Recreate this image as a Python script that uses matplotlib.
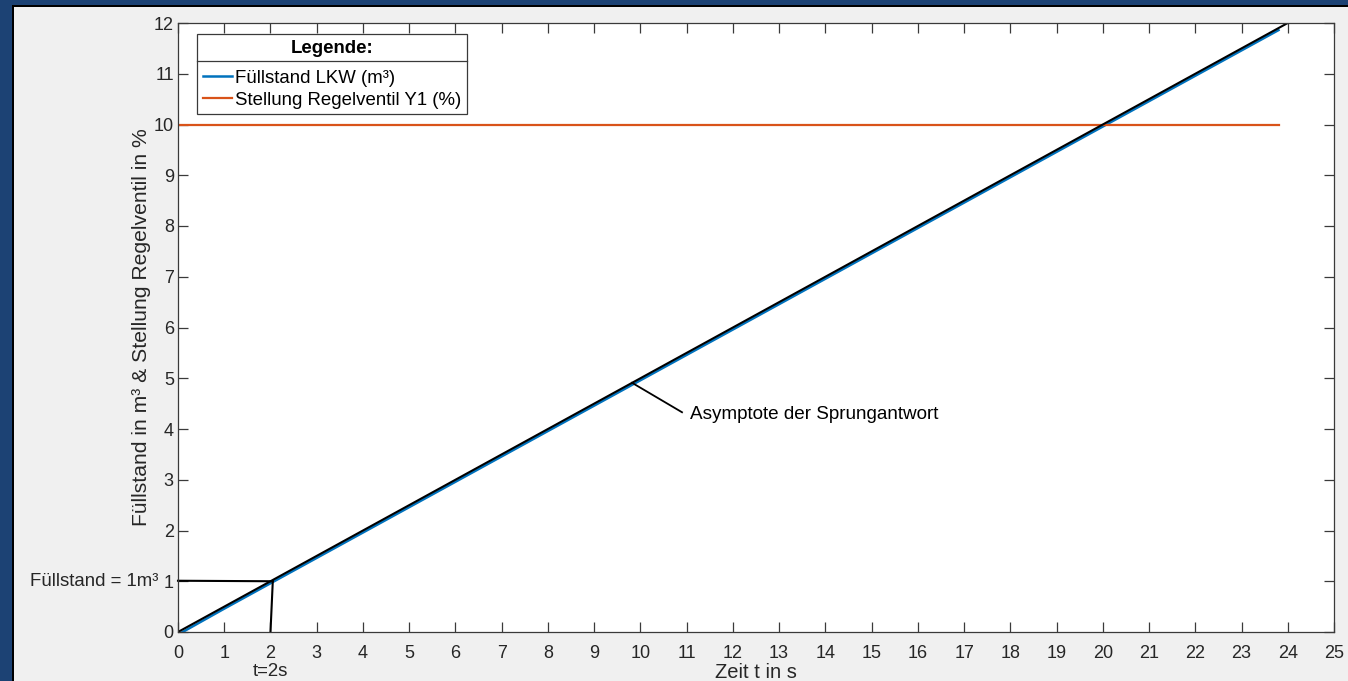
import matplotlib
matplotlib.use("Agg")
import matplotlib.pyplot as plt
from matplotlib.patches import Rectangle
from matplotlib.lines import Line2D

plt.rcParams['font.family'] = ['Liberation Sans', 'DejaVu Sans']

# ---------------------------------
# Data
# ---------------------------------

t_fuell = [0.1, 1, 2, 3, 4, 5, 6, 7, 8, 9, 10, 11, 12, 13, 14, 15, 16,
           17, 18, 19, 20, 21, 22, 23, 23.8]
fuell = [0.0, 0.46, 0.96, 1.46, 1.96, 2.46, 2.96, 3.46, 3.96, 4.46, 4.96,
         5.46, 5.96, 6.46, 6.96, 7.46, 7.96, 8.46, 8.96, 9.46, 9.96, 10.46,
         10.96, 11.46, 11.86]

t_ventil = [0, 23.8]
ventil = [10, 10]

t_asym = [0, 24]
asym = [0, 12]

# helper lines at t = 2 s / 1 m³
t_hline = [0, 2.05]
y_hline = [1.01, 1.0]
t_vline = [2.05, 2.0]
y_vline = [1.0, 0.0]

# annotation pointer
t_pointer = [9.82, 10.9]
y_pointer = [4.91, 4.33]

xticks = list(range(0, 26))
yticks = list(range(0, 13))

FS = 13.4

# ---------------------------------
# Figure
# ---------------------------------

W, H = 1348, 681
fig = plt.figure(figsize=(W / 100, H / 100), dpi=100, facecolor='#f0f0f0')

# screenshot frame (blue desktop + black window border)
blue = '#1c4274'
fig.patches.append(Rectangle((0, 0), 12 / W, 1, transform=fig.transFigure,
                             facecolor=blue, edgecolor='none', zorder=-5))
fig.patches.append(Rectangle((0, 1 - 5 / H), 1, 5 / H, transform=fig.transFigure,
                             facecolor=blue, edgecolor='none', zorder=-5))
fig.patches.append(Rectangle((12 / W, 0), 2 / W, 1 - 5 / H, transform=fig.transFigure,
                             facecolor='black', edgecolor='none', zorder=-4))
fig.patches.append(Rectangle((12 / W, 1 - 7 / H), 1, 2 / H, transform=fig.transFigure,
                             facecolor='black', edgecolor='none', zorder=-4))

ax = fig.add_axes([178 / W, 1 - 632 / H, (1334 - 178) / W, (632 - 23) / H])
ax.set_facecolor('white')

ax.plot(t_fuell, fuell, color='#0072BD', lw=1.8, label='Füllstand LKW (m³)')
ax.plot(t_ventil, ventil, color='#D95319', lw=1.6, label='Stellung Regelventil Y1 (%)')
ax.plot(t_asym, asym, color='black', lw=1.5)
ax.plot(t_hline, y_hline, color='black', lw=1.5, clip_on=False)
ax.plot(t_vline, y_vline, color='black', lw=1.5)
ax.plot(t_pointer, y_pointer, color='black', lw=1.3)

ax.text(11.07, 4.28, 'Asymptote der Sprungantwort', fontsize=13.6,
        ha='left', va='center', color='black')

ax.set_xlim(0, 25)
ax.set_ylim(0, 12)
ax.set_xticks(xticks)
ax.set_yticks(yticks)

axcol = '#3a3a3a'
for s in ax.spines.values():
    s.set_color(axcol)
    s.set_linewidth(0.9)
ax.tick_params(direction='in', length=7.5, width=0.9, color=axcol,
               top=True, right=True, labelsize=13, labelcolor='#262626',
               pad=3)
ax.tick_params(axis='x', pad=9)

ax.set_xlabel('Zeit t in s', fontsize=14.5, color='#262626')
ax.xaxis.set_label_coords(0.5, -31 / 609)
ax.set_ylabel('Füllstand in m³ & Stellung Regelventil in %', fontsize=15.2,
              color='#262626')
ax.yaxis.set_label_coords(-27 / 1156, 0.5)

# extra labels for the 2 s / 1 m³ reading
ax.text(-20 / 46.25, 1, 'Füllstand = 1m³', fontsize=FS, ha='right',
        va='center', color='#262626', clip_on=False)
ax.text(2, -39 / 50.75, 't=2s', fontsize=FS, ha='center', va='center',
        color='#262626', clip_on=False)

# ---------------------------------
# Legend
# ---------------------------------

leg = ax.legend(loc='upper left', bbox_to_anchor=(19 / 1156, 1 - 11 / 609),
                borderaxespad=0, title='Legende:', fontsize=FS,
                title_fontproperties={'weight': 'bold', 'size': FS},
                fancybox=False, framealpha=1, edgecolor='#3a3a3a',
                handlelength=1.6, handletextpad=0.15, borderpad=0.3,
                labelspacing=0.27)
leg.get_frame().set_linewidth(0.9)
leg._legend_box.sep = 9.5
for txt in leg.get_texts():
    txt.set_color('black')

# separator line under the legend title
fig.canvas.draw()
fb = leg.get_frame().get_window_extent()
ysep = fb.y1 - 27
fig.add_artist(Line2D([fb.x0 / W, fb.x1 / W], [ysep / H, ysep / H],
                      transform=fig.transFigure, color='#3a3a3a', lw=0.9))

fig.savefig('out.png', dpi=100, facecolor=fig.get_facecolor())
